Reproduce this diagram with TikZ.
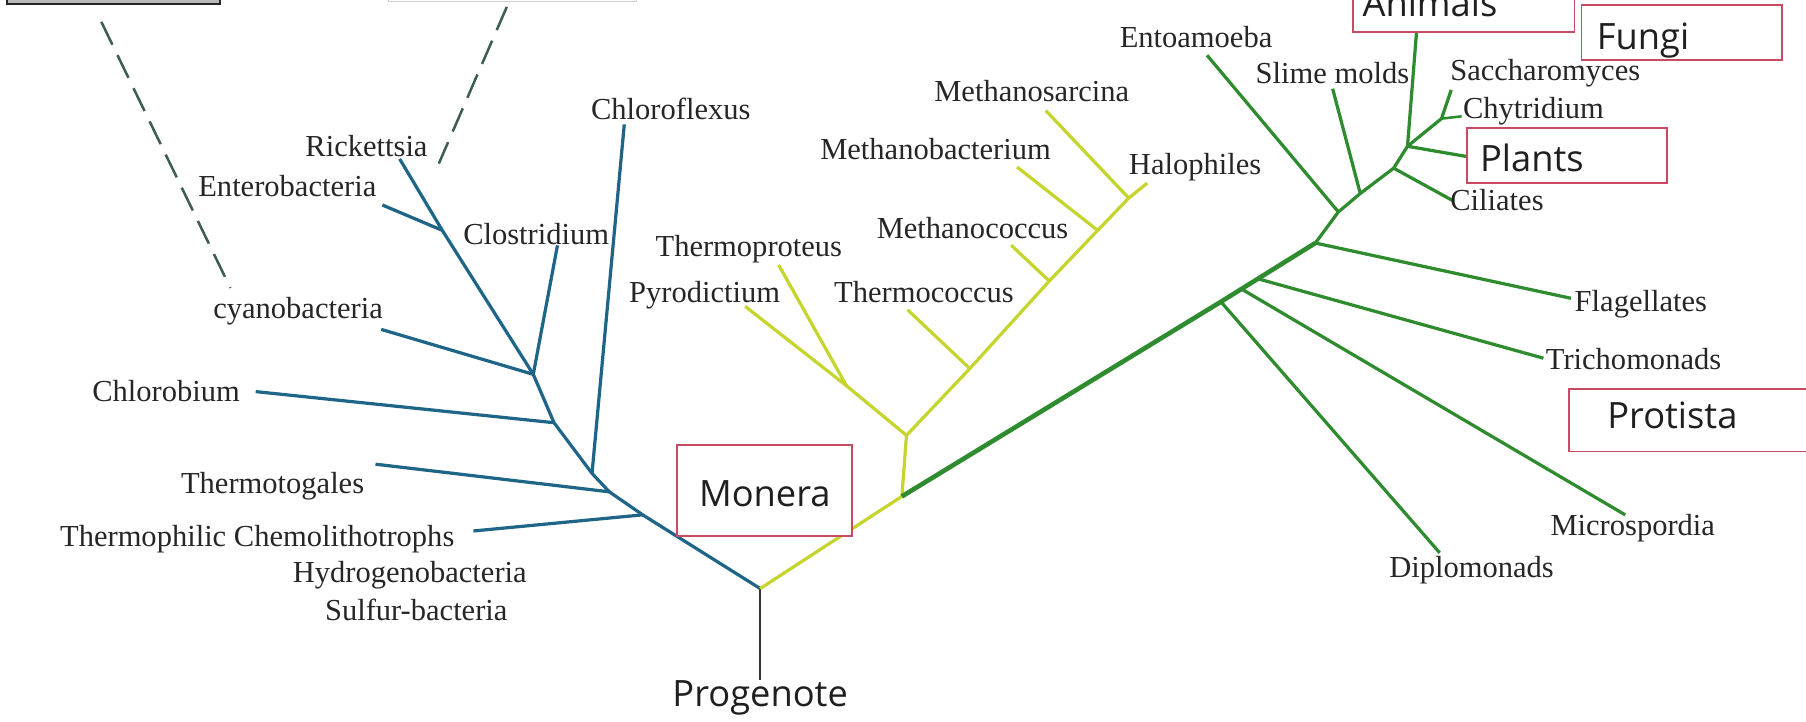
\documentclass[tikz,border=0pt]{standalone}
\usepackage{fontspec}
\setmainfont{Liberation Serif}
\newfontfamily\boxfont{Open Sans}
\definecolor{bact}{HTML}{1F6588}
\definecolor{arch}{HTML}{C6D52E}
\definecolor{euk}{HTML}{2E8B2E}
\definecolor{boxred}{HTML}{C94A61}
\definecolor{dashc}{HTML}{3E5E52}
\begin{document}
\begin{tikzpicture}[x=1pt,y=-1pt,
  lab/.style={font=\fontsize{26.5}{30}\selectfont, inner sep=0pt, anchor=west, text height=19pt, text depth=2pt, text=black!85},
  kbox/.style={draw=boxred, line width=1.6pt, fill=white},
  ktext/.style={font=\boxfont\fontsize{31.5}{36}\selectfont, anchor=base, inner sep=0pt, text=black!88},
  bline/.style={draw=bact, line width=2.8pt, line join=round},
  aline/.style={draw=arch, line width=2.8pt, line join=round},
  eline/.style={draw=euk, line width=2.8pt, line join=round},
  etrunk/.style={draw=euk, line width=4pt, line join=round},
  dline/.style={draw=dashc, line width=2.2pt, dash pattern=on 22pt off 10pt},
  rootline/.style={draw=black!80, line width=1.6pt}]
\useasboundingbox (0,0) rectangle (1568,626);

% partial boxes at the top edge
\draw[draw=gray!30!black, fill=gray!55, line width=1.5pt] (6,-12) rectangle (191,3.5);
\draw[draw=gray!40, line width=0.8pt] (337,-20) rectangle (553,1);

% root
\coordinate (R) at (660,511);
\coordinate (Rb) at (660,590);

% bacteria (blue)
\coordinate (bTh) at (558,447);
\coordinate (bTt) at (529,427);
\coordinate (bCf) at (514,411);
\coordinate (bCb) at (481,367);
\coordinate (bCy) at (463,325);
\coordinate (bEn) at (384,200);
\coordinate (tRi) at (347,138);
\coordinate (tEn) at (332,178);
\coordinate (tCl) at (484,213);
\coordinate (tCy) at (331,286);
\coordinate (tCb) at (222,340);
\coordinate (tCf) at (542,108);
\coordinate (tTt) at (326,403);
\coordinate (tTh) at (411,461);

% archaea (yellow)
\coordinate (yG) at (783,431);
\coordinate (yK) at (787,378);
\coordinate (yPT) at (735,335);
\coordinate (yTc) at (842,320);
\coordinate (yMc) at (911,244);
\coordinate (yMb) at (953,200);
\coordinate (yH) at (980,172);
\coordinate (tPy) at (647,266);
\coordinate (tTp) at (676,230);
\coordinate (tTc) at (788,269);
\coordinate (tMc) at (878,213);
\coordinate (tMb) at (883,145);
\coordinate (tMs) at (908,96);
\coordinate (tHa) at (996,159);

% eukaryotes (green)
\coordinate (gD) at (1060,262);
\coordinate (gM) at (1078,251);
\coordinate (gT) at (1092,242);
\coordinate (gF) at (1142,211);
\coordinate (gE) at (1162,184);
\coordinate (gS) at (1181,168);
\coordinate (gC) at (1210,146);
\coordinate (gP) at (1222,127);
\coordinate (gY) at (1251.5,103);
\coordinate (tDi) at (1250,480);
\coordinate (tMi) at (1411,447);
\coordinate (tTr) at (1340,311);
\coordinate (tFl) at (1364,259);
\coordinate (tEa) at (1048,48);
\coordinate (tSl) at (1157,77);
\coordinate (tCi) at (1261,174);
\coordinate (tPl) at (1274,136);
\coordinate (tAn) at (1230,26);
\coordinate (tSa) at (1260,78);
\coordinate (tCh) at (1269,101);

% dashed line ends
\coordinate (dA1) at (88,19);
\coordinate (dA2) at (200,250);
\coordinate (dB1) at (440,6);
\coordinate (dB2) at (381,142);

% connectors
\draw[rootline] (R) -- (Rb);
\draw[bline] (R) -- (bTh) -- (bTt) -- (bCf) -- (bCb) -- (bCy) -- (bEn) -- (tRi);
\draw[bline] (bEn) -- (tEn);
\draw[bline] (bCy) -- (tCl);
\draw[bline] (bCy) -- (tCy);
\draw[bline] (bCb) -- (tCb);
\draw[bline] (bCf) -- (tCf);
\draw[bline] (bTt) -- (tTt);
\draw[bline] (bTh) -- (tTh);

\draw[aline] (R) -- (yG) -- (yK) -- (yTc) -- (yMc) -- (yMb) -- (yH) -- (tHa);
\draw[aline] (yK) -- (yPT) -- (tPy);
\draw[aline] (yPT) -- (tTp);
\draw[aline] (yTc) -- (tTc);
\draw[aline] (yMc) -- (tMc);
\draw[aline] (yMb) -- (tMb);
\draw[aline] (yH) -- (tMs);

\draw[etrunk] (yG) -- (gD) -- (gF);
\draw[eline] (gF) -- (gE) -- (gS) -- (gC) -- (gP) -- (gY) -- (tSa);
\draw[eline] (gD) -- (tDi);
\draw[eline] (gM) -- (tMi);
\draw[eline] (gT) -- (tTr);
\draw[eline] (gF) -- (tFl);
\draw[eline] (gE) -- (tEa);
\draw[eline] (gS) -- (tSl);
\draw[eline] (gC) -- (tCi);
\draw[eline] (gP) -- (tPl);
\draw[eline] (gP) -- (tAn);
\draw[eline, line width=2.2pt] (gY) -- (tCh);

\draw[dline] (dA1) -- (dA2);
\draw[dline] (dB1) -- (dB2);

% labels
\node[lab] (Ri) at (265,127) {Rickettsia};
\node[lab] (En) at (172,162) {Enterobacteria};
\node[lab] (Cl) at (402,204) {Clostridium};
\node[lab] (Cy) at (185,268) {cyanobacteria};
\node[lab] (Cb) at (80,340) {Chlorobium};
\node[lab] (Cf) at (513,95) {Chloroflexus};
\node[lab] (Tt) at (157,420) {Thermotogales};
\node[lab] (Th) at (52,466) {Thermophilic Chemolithotrophs};
\node[lab] (Hy) at (254,497) {Hydrogenobacteria};
\node[lab] (Su) at (282,530) {Sulfur-bacteria};
\node[lab] (Tp) at (569,214) {Thermoproteus};
\node[lab] (Py) at (546,254) {Pyrodictium};
\node[lab] (Tc) at (724,254) {Thermococcus};
\node[lab] (Mc) at (761,199) {Methanococcus};
\node[lab] (Mb) at (712,130) {Methanobacterium};
\node[lab] (Ms) at (811,80) {Methanosarcina};
\node[lab] (Ha) at (980,143) {Halophiles};
\node[lab] (Ea) at (972,33) {Entoamoeba};
\node[lab] (Sl) at (1090,64) {Slime molds};
\node[lab] (Sa) at (1259,61) {Saccharomyces};
\node[lab] (Ch) at (1270,94) {Chytridium};
\node[lab] (Ci) at (1259,174) {Ciliates};
\node[lab] (Fl) at (1367,262) {Flagellates};
\node[lab] (Tr) at (1342,312) {Trichomonads};
\node[lab] (Mi) at (1346,456) {Microspordia};
\node[lab] (Di) at (1206,493) {Diplomonads};

% kingdom boxes
\draw[kbox] (588,386) rectangle (740,465);
\node[ktext] (Mo) at (664,440) {Monera};
\draw[kbox] (1274,111) rectangle (1447,159);
\node[ktext] (Pl) at (1330,149) {Plants};
\draw[kbox] (1373,4) rectangle (1547,52);
\node[ktext] (Fu) at (1426.5,43.4) {Fungi};
\draw[kbox] (1175,-15) rectangle (1367,27.5);
\node[ktext] (An) at (1241.5,14.5) {Animals};
\draw[kbox] (1362,338) rectangle (1575,392);
\node[ktext] (Pr) at (1452,371.7) {Protista};
\node[ktext] (Pg) at (660,613) {Progenote};
\end{tikzpicture}
\end{document}
